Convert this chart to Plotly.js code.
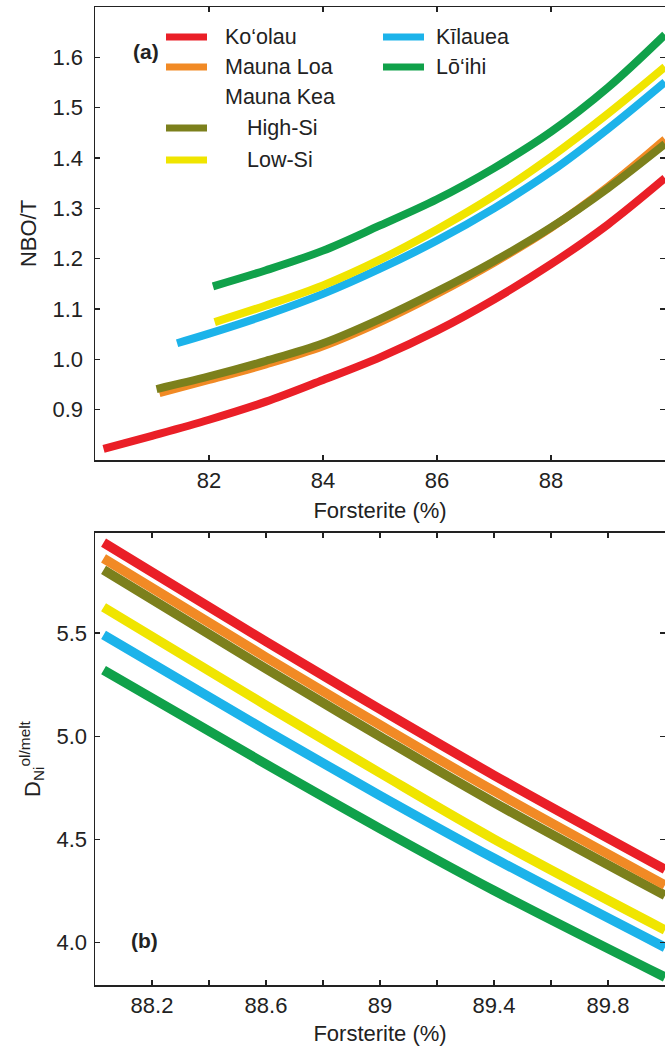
<!DOCTYPE html>
<html>
<head>
<meta charset="utf-8">
<script src="https://cdn.plot.ly/plotly-3.0.1.min.js"></script>
<style>html,body{margin:0;padding:0;background:#fff;}#chart{width:665px;height:1046px;}</style>
</head>
<body>
<div id="chart"></div>
<script>
// ---------- Panel (a): NBO/T vs Forsterite ----------
const foKoolau   = [80.15, 81, 82, 83, 84, 85, 86, 87, 88, 89, 90];
const nboKoolau  = [0.822, 0.848, 0.880, 0.916, 0.959, 1.004, 1.057, 1.119, 1.189, 1.268, 1.360];
const foMaunaLoa  = [81.13, 82, 83, 84, 85, 86, 87, 88, 89, 90];
const nboMaunaLoa = [0.933, 0.959, 0.990, 1.026, 1.074, 1.130, 1.192, 1.261, 1.343, 1.437];
const foHighSi  = [81.08, 82, 83, 84, 85, 86, 87, 88, 89, 90];
const nboHighSi = [0.941, 0.966, 0.997, 1.032, 1.080, 1.135, 1.195, 1.262, 1.340, 1.428];
const foLowSi   = [82.1, 83, 84, 85, 86, 87, 88, 89, 90];
const nboLowSi  = [1.074, 1.107, 1.147, 1.198, 1.258, 1.325, 1.402, 1.488, 1.581];
const foKilauea  = [81.44, 82, 83, 84, 85, 86, 87, 88, 89, 90];
const nboKilauea = [1.032, 1.051, 1.088, 1.130, 1.180, 1.236, 1.300, 1.373, 1.458, 1.551];
const foLoihi   = [82.07, 83, 84, 85, 86, 87, 88, 89, 90];
const nboLoihi  = [1.145, 1.177, 1.216, 1.266, 1.318, 1.380, 1.452, 1.540, 1.645];

// ---------- Panel (b): D_Ni ol/melt vs Forsterite ----------
const foB        = [88.03, 88.6, 89.0, 89.4, 90.0];
const dKoolau    = [5.938, 5.459, 5.131, 4.811, 4.355];
const dMaunaLoa  = [5.862, 5.383, 5.055, 4.735, 4.279];
const dHighSi    = [5.806, 5.327, 4.999, 4.679, 4.229];
const dLowSi     = [5.625, 5.150, 4.822, 4.502, 4.061];
const dKilauea   = [5.491, 5.029, 4.713, 4.409, 3.977];
const dLoihi     = [5.321, 4.865, 4.553, 4.253, 3.833];

const names = {
  koolau: 'Ko\u2018olau', maunaLoa: 'Mauna Loa', maunaKea: 'Mauna Kea',
  highSi: 'High-Si', lowSi: 'Low-Si',
  kilauea: 'K\u012blauea', loihi: 'L\u014d\u2018ihi'
};
const colors = {
  koolau: '#ea1f27', maunaLoa: '#f18a25', highSi: '#7c801c',
  lowSi: '#f0e500', kilauea: '#1cb3ea', loihi: '#10a14a'
};

const yTicksA = [0.9, 1.0, 1.1, 1.2, 1.3, 1.4, 1.5, 1.6];
const xTicksA = [82, 84, 86, 88];
const yTicksB = [4.0, 4.5, 5.0, 5.5];

const WA = 8, WB = 9.5;
function lineA(x, y, key) {
  return {x: x, y: y, mode: 'lines', name: names[key], showlegend: false,
    line: {color: colors[key], width: WA, shape: 'spline', smoothing: 1},
    xaxis: 'x', yaxis: 'y', hoverinfo: 'skip'};
}
function lineB(x, y, key) {
  return {x: x, y: y, mode: 'lines', name: names[key], showlegend: false,
    line: {color: colors[key], width: WB, shape: 'spline', smoothing: 1},
    xaxis: 'x2', yaxis: 'y2', hoverinfo: 'skip'};
}

const traces = [
  lineA(foKoolau, nboKoolau, 'koolau'),
  lineA(foMaunaLoa, nboMaunaLoa, 'maunaLoa'),
  lineA(foHighSi, nboHighSi, 'highSi'),
  lineA(foKilauea, nboKilauea, 'kilauea'),
  lineA(foLowSi, nboLowSi, 'lowSi'),
  lineA(foLoihi, nboLoihi, 'loihi'),
  lineB(foB, dKoolau, 'koolau'),
  lineB(foB, dHighSi, 'highSi'),
  lineB(foB, dMaunaLoa, 'maunaLoa'),
  lineB(foB, dLowSi, 'lowSi'),
  lineB(foB, dKilauea, 'kilauea'),
  lineB(foB, dLoihi, 'loihi')
];

const FONT = 'Liberation Sans, Arial, Helvetica, sans-serif';
const INK = '#222';
const axisCommon = {
  showgrid: false, zeroline: false, showline: true, linecolor: INK, linewidth: 1.5,
  mirror: 'ticks', ticks: 'inside', ticklen: 5, tickwidth: 1.2, tickcolor: INK,
  tickfont: {family: FONT, size: 22, color: INK}
};

// Legend drawn inside panel (a): rows in pixel positions converted to paper
const ML = 95, MT = 7, PLOT_W = 570, PLOT_BOTTOM = 985, PLOT_H = 978;
const px = v => (v - ML) / PLOT_W;
const py = v => (PLOT_BOTTOM - v) / PLOT_H;
const legendRows = [
  {key: 'koolau',   sx: 166, tx: 223, y: 37},
  {key: 'maunaLoa', sx: 166, tx: 223, y: 67},
  {key: 'maunaKea', sx: null, tx: 223, y: 97},
  {key: 'highSi',   sx: 166, tx: 245, y: 128},
  {key: 'lowSi',    sx: 166, tx: 245, y: 160},
  {key: 'kilauea',  sx: 383, tx: 434, y: 37},
  {key: 'loihi',    sx: 383, tx: 434, y: 67}
];
const shapes = [];
const annotations = [
  {text: '<b>(a)</b>', xref: 'paper', yref: 'paper', x: px(131), y: py(38),
   showarrow: false, font: {family: FONT, size: 21, color: INK}},
  {text: '<b>(b)</b>', xref: 'paper', yref: 'paper', x: px(129), y: py(954),
   showarrow: false, font: {family: FONT, size: 21, color: INK}}
];
legendRows.forEach(r => {
  if (r.sx !== null) {
    shapes.push({type: 'line', xref: 'paper', yref: 'paper',
      x0: px(r.sx), x1: px(r.sx + 41), y0: py(r.y), y1: py(r.y),
      line: {color: colors[r.key], width: 7}});
  }
  annotations.push({text: names[r.key], xref: 'paper', yref: 'paper',
    x: px(r.tx), y: py(r.y), xanchor: 'left', yanchor: 'middle', showarrow: false,
    font: {family: FONT, size: 21.5, color: INK}});
});

const layout = {
  width: 665, height: 1046,
  margin: {l: ML, r: 0, t: MT, b: 61},
  paper_bgcolor: '#fff', plot_bgcolor: '#fff',
  font: {family: FONT, size: 22, color: INK},
  showlegend: false,
  xaxis: Object.assign({}, axisCommon, {
    domain: [0, 1], anchor: 'y', range: [80, 90], tickvals: xTicksA,
    title: {text: 'Forsterite (%)', font: {family: FONT, size: 22, color: INK}, standoff: 10}
  }),
  yaxis: Object.assign({}, axisCommon, {
    domain: [0.5368, 1], anchor: 'x', range: [0.8, 1.7],
    tickvals: yTicksA, tickformat: '.1f', ticklabelstandoff: 6,
    title: {text: 'NBO/T', font: {family: FONT, size: 22, color: INK}, standoff: 10}
  }),
  xaxis2: Object.assign({}, axisCommon, {
    domain: [0, 1], anchor: 'y2', range: [88, 90],
    tick0: 88.2, dtick: 0.4,
    minor: {tick0: 88.2, dtick: 0.2, ticks: 'inside', ticklen: 5, tickwidth: 1.2, tickcolor: INK, showgrid: false},
    title: {text: 'Forsterite (%)', font: {family: FONT, size: 22, color: INK}, standoff: 8}
  }),
  yaxis2: Object.assign({}, axisCommon, {
    domain: [0, 0.4622], anchor: 'x2', range: [3.795, 5.985],
    tickvals: yTicksB, tickformat: '.1f', ticklabelstandoff: 2,
    title: {text: 'D<sub>Ni</sub><sup>ol/melt</sup>', font: {family: FONT, size: 22, color: INK}, standoff: 10}
  }),
  shapes: shapes,
  annotations: annotations
};

Plotly.newPlot('chart', traces, layout, {staticPlot: true, displayModeBar: false});
</script>
</body>
</html>
